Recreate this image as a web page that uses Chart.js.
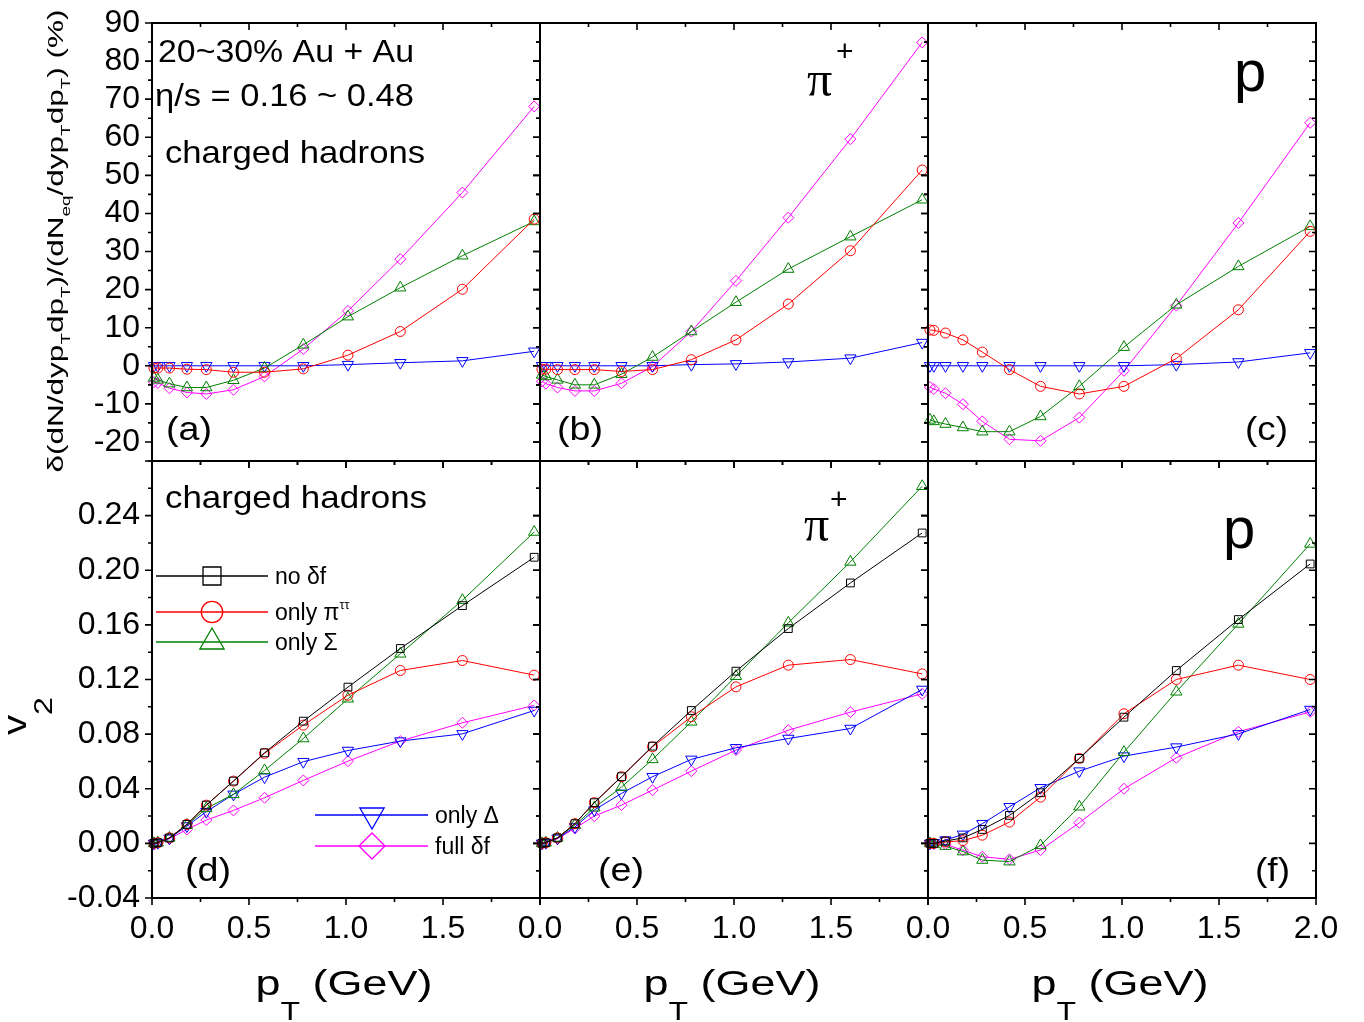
<!DOCTYPE html>
<html>
<head>
<meta charset="utf-8">
<title>delta f corrections: spectra and v2</title>
<script src="https://cdn.jsdelivr.net/npm/chart.js@4.4.1/dist/chart.umd.min.js"></script>
<style>
  html, body { margin: 0; padding: 0; background: #fff; overflow: hidden; }
  #wrap { position: relative; width: 1364px; height: 1022px; }
  #wrap canvas { position: absolute; left: 0; top: 0; }
</style>
</head>
<body>
<div id="wrap"></div>
<script>
const W = 1364, H = 1022;
const SANS = '"Liberation Sans", Arial, sans-serif';
const SERIF = '"Liberation Serif", "Times New Roman", serif';

// transverse momentum points (GeV)
const pT = [0.01, 0.03, 0.09, 0.18, 0.28, 0.42, 0.58, 0.78, 1.01, 1.28, 1.60, 1.97];

// relative change of the spectra, in %  (charged hadrons / pi+ / p)
const yieldPiCh    = [-0.6, -0.6, -0.6, -0.9, -1.0, -1.7, -1.7, -0.8, 2.8, 9.0, 20.1, 38.5];
const yieldSigmaCh = [-3.2, -3.7, -4.7, -5.7, -5.7, -3.8, -0.6, 5.5, 12.9, 20.5, 28.9, 37.9];
const yieldDeltaCh = [0, 0, 0, 0, 0, 0, 0, 0, 0.3, 0.8, 1.3, 3.8];
const yieldFullCh  = [-4.3, -4.5, -5.9, -7.0, -7.4, -6.3, -2.8, 4.4, 14.4, 28.0, 45.5, 68.1];

const yieldPiPion    = [-0.9, -0.9, -1.0, -1.0, -1.0, -1.5, -1.0, 1.6, 6.8, 16.2, 30.2, 51.4];
const yieldSigmaPion = [-2.4, -2.8, -3.7, -5.0, -5.0, -2.2, 2.3, 9.0, 16.7, 25.4, 33.9, 43.6];
const yieldDeltaPion = [0, 0, 0, 0, 0, 0, 0, 0.3, 0.5, 1.0, 2.0, 6.1];
const yieldFullPion  = [-4.1, -4.7, -5.7, -6.6, -6.6, -4.6, -0.2, 9.0, 22.3, 38.9, 59.5, 84.9];

const yieldPiProton    = [9.4, 9.3, 8.6, 6.8, 3.6, -1.0, -5.4, -7.4, -5.4, 1.9, 14.7, 35.3];
const yieldSigmaProton = [-14.2, -14.6, -15.3, -16.2, -17.3, -17.3, -13.3, -5.4, 4.9, 16.0, 26.1, 36.6];
const yieldDeltaProton = [0, 0, 0, 0, 0, 0, 0, 0, 0, 0.3, 1.0, 3.4];
const yieldFullProton  = [-5.6, -6.1, -7.2, -10.1, -14.6, -19.3, -19.7, -13.6, -1.3, 15.8, 37.5, 63.8];

// elliptic flow v2
const v2NoCh    = [0, 0.0005, 0.004, 0.0139, 0.028, 0.0456, 0.0663, 0.0895, 0.1144, 0.1427, 0.1741, 0.2095];
const v2PiCh    = [0, 0.0005, 0.004, 0.0139, 0.028, 0.0456, 0.0659, 0.0866, 0.1085, 0.1266, 0.1339, 0.1232];
const v2SigmaCh = [0, 0.0005, 0.004, 0.0134, 0.0256, 0.0359, 0.0534, 0.0768, 0.1059, 0.1388, 0.178, 0.228];
const v2DeltaCh = [0, 0.0005, 0.0037, 0.0127, 0.0232, 0.0359, 0.0485, 0.0598, 0.068, 0.0749, 0.0802, 0.0973];
const v2FullCh  = [0, 0.0005, 0.0034, 0.0102, 0.0171, 0.0241, 0.0334, 0.0461, 0.0602, 0.0749, 0.0883, 0.101];

const v2NoPion    = [0, 0.0005, 0.004, 0.0144, 0.0298, 0.0488, 0.0712, 0.0973, 0.1261, 0.1573, 0.1907, 0.2273];
const v2PiPion    = [0, 0.0005, 0.004, 0.0144, 0.0298, 0.0488, 0.0707, 0.0927, 0.1146, 0.1305, 0.1346, 0.1241];
const v2SigmaPion = [0, 0.0005, 0.004, 0.0134, 0.0261, 0.0412, 0.0615, 0.089, 0.1224, 0.1615, 0.2061, 0.2615];
const v2DeltaPion = [0, 0.0005, 0.0037, 0.012, 0.0244, 0.0366, 0.0488, 0.0615, 0.07, 0.0768, 0.0841, 0.1127];
const v2FullPion  = [0, 0.0005, 0.0034, 0.011, 0.02, 0.028, 0.039, 0.0529, 0.0683, 0.0829, 0.0961, 0.1095];

const v2NoProton    = [0, 0, 0.0017, 0.004, 0.0102, 0.0205, 0.0371, 0.0622, 0.0924, 0.1266, 0.1639, 0.2046];
const v2PiProton    = [0, 0, 0.001, 0.002, 0.006, 0.0156, 0.0339, 0.0622, 0.0949, 0.12, 0.1305, 0.12];
const v2SigmaProton = [0, -0.0007, -0.002, -0.006, -0.0122, -0.0134, -0.0015, 0.0268, 0.0668, 0.111, 0.1607, 0.2193];
const v2DeltaProton = [0, 0.0005, 0.0024, 0.0066, 0.0144, 0.0268, 0.0407, 0.0529, 0.0639, 0.0705, 0.0802, 0.098];
const v2FullProton  = [0, -0.0003, -0.0007, -0.005, -0.0098, -0.0117, -0.0049, 0.0151, 0.04, 0.0627, 0.0817, 0.0963];

// axis ranges
const xAxis = { min: 0, max: 2, step: 0.5, minor: 0.25 };
const yieldAxis = { min: -25, max: 90, step: 10, minor: 5 };
const v2Axis = { min: -0.04, max: 0.28, step: 0.04, minor: 0.02 };

// one look per delta-f variant
const STYLES = {
    no:    { color: '#000000', point: 'rect',     r: 5.5 },
    pi:    { color: '#ff0000', point: 'circle',   r: 5 },
    sigma: { color: '#008000', point: 'triangle', r: 6.5 },
    delta: { color: '#0000ff', point: 'triangle', r: 6.5, rot: 180 },
    full:  { color: '#ff00ff', point: 'rectRot',  r: 5.5 }
};

/** text with sub/superscript runs; parts = [text, sizeFactor, dyFactor] */
function richText(ctx, it) {
    const fam = it.font || SANS;
    ctx.save();
    ctx.translate(it.x, it.y);
    if (it.angle) ctx.rotate(it.angle * Math.PI / 180);
    const runs = it.parts.map(([t, f = 1, dy = 0]) => {
        const px = it.size * f;
        ctx.font = px + 'px ' + fam;
        return { t, px, dy: dy * it.size, w: ctx.measureText(t).width };
    });
    const natural = runs.reduce((s, r) => s + r.w, 0);
    if (it.width) ctx.scale(it.width / natural, 1);
    let cx = it.align === 'center' ? -natural / 2 : 0;
    ctx.fillStyle = it.color || '#000';
    ctx.textAlign = 'left';
    ctx.textBaseline = 'alphabetic';
    runs.forEach(r => {
        ctx.font = r.px + 'px ' + fam;
        ctx.fillText(r.t, cx, r.dy);
        cx += r.w;
    });
    ctx.restore();
}

/** line + big symbol + label, drawn by hand inside panel (d) */
function drawKey(ctx, rows) {
    rows.forEach(k => {
        const s = STYLES[k.key];
        ctx.save();
        ctx.strokeStyle = s.color;
        ctx.fillStyle = 'rgba(0,0,0,0)';
        ctx.lineWidth = 1.3;
        ctx.beginPath();
        ctx.moveTo(k.x1, k.y);
        ctx.lineTo(k.x2, k.y);
        ctx.stroke();
        Chart.helpers.drawPoint(ctx, {
            pointStyle: s.point, rotation: s.rot || 0, radius: k.r, borderWidth: 1.3
        }, k.mx, k.y);
        ctx.restore();
        richText(ctx, { x: k.tx, y: k.y + 8, size: 23, parts: k.parts });
    });
}

const isMajor = (v, step) => Math.abs(v / step - Math.round(v / step)) < 1e-6;

/** frame + tick marks (x ticks hang down, y ticks point left) */
function frameTicks(yc) {
    return {
        id: 'frameTicks',
        afterDatasetsDraw(chart) {
            const { ctx, chartArea: a, scales } = chart;
            ctx.save();
            ctx.strokeStyle = '#000';
            ctx.lineWidth = 1.6;
            ctx.beginPath();
            const nx = Math.round((xAxis.max - xAxis.min) / xAxis.minor);
            for (let i = 0; i <= nx; i++) {
                const v = xAxis.min + i * xAxis.minor;
                const px = scales.x.getPixelForValue(v);
                const len = isMajor(v, xAxis.step) ? 7 : 4;
                ctx.moveTo(px, a.bottom); ctx.lineTo(px, a.bottom + len);
                ctx.moveTo(px, a.top); ctx.lineTo(px, a.top + len);
            }
            const ny = Math.round((yc.max - yc.min) / yc.minor);
            for (let i = 0; i <= ny; i++) {
                const v = yc.min + i * yc.minor;
                const py = scales.y.getPixelForValue(v);
                const len = isMajor(v, yc.step) ? 7 : 4;
                ctx.moveTo(a.left, py); ctx.lineTo(a.left - len, py);
                ctx.moveTo(a.right, py); ctx.lineTo(a.right - len, py);
            }
            ctx.stroke();
            ctx.lineWidth = 2;
            ctx.strokeRect(a.left, a.top, a.width, a.height);
            ctx.restore();
        }
    };
}

function notesPlugin(items, key) {
    return {
        id: 'notes',
        afterDraw(chart) {
            items.forEach(it => richText(chart.ctx, it));
            if (key) drawKey(chart.ctx, key);
        }
    };
}

function makeSet(key, values) {
    const s = STYLES[key];
    return {
        label: key,
        data: values.map((v, i) => ({ x: pT[i], y: v })),
        borderColor: s.color,
        backgroundColor: 'rgba(0,0,0,0)',
        borderWidth: 1,
        pointStyle: s.point,
        pointRadius: s.r,
        pointRotation: s.rot || 0,
        pointBorderColor: s.color,
        pointBackgroundColor: 'rgba(0,0,0,0)',
        pointBorderWidth: 1,
        tension: 0,
        clip: false
    };
}

const yieldTitle = [['δ(dN/dyp'], ['T', 0.6, 0.3], ['dp'], ['T', 0.6, 0.3], [')/(dN'], ['eq', 0.6, 0.3],
    ['/dyp'], ['T', 0.6, 0.3], ['dp'], ['T', 0.6, 0.3], [') (%)']];
const ptTitle = [['p'], ['T', 0.71, 0.71], [' (GeV)']];

const panels = [
    {
        box: [152, 23, 540, 461], yc: yieldAxis, yLabels: true, xLabels: false,
        series: [['pi', yieldPiCh], ['sigma', yieldSigmaCh], ['delta', yieldDeltaCh], ['full', yieldFullCh]],
        notes: [
            { x: 158, y: 62, size: 31, width: 256, parts: [['20~30% Au + Au']] },
            { x: 155, y: 106, size: 31, width: 259, parts: [['η/s = 0.16 ~ 0.48']] },
            { x: 165, y: 163, size: 32, width: 260, parts: [['charged hadrons']] },
            { x: 166, y: 440, size: 34, width: 46, parts: [['(a)']] },
            { x: 63, y: 241, size: 22, angle: -90, align: 'center', width: 463, parts: yieldTitle }
        ]
    },
    {
        box: [540, 23, 928, 461], yc: yieldAxis, yLabels: false, xLabels: false,
        series: [['pi', yieldPiPion], ['sigma', yieldSigmaPion], ['delta', yieldDeltaPion], ['full', yieldFullPion]],
        notes: [
            { x: 807, y: 96, size: 50, font: SERIF, parts: [['π']] },
            { x: 836, y: 61, size: 30, parts: [['+']] },
            { x: 557, y: 440, size: 34, width: 46, parts: [['(b)']] }
        ]
    },
    {
        box: [928, 23, 1316, 461], yc: yieldAxis, yLabels: false, xLabels: false,
        series: [['pi', yieldPiProton], ['sigma', yieldSigmaProton], ['delta', yieldDeltaProton], ['full', yieldFullProton]],
        notes: [
            { x: 1234, y: 91, size: 58, parts: [['p']] },
            { x: 1245, y: 440, size: 34, width: 43, parts: [['(c)']] }
        ]
    },
    {
        box: [152, 461, 540, 898], yc: v2Axis, yLabels: true, xLabels: true,
        series: [['no', v2NoCh], ['pi', v2PiCh], ['sigma', v2SigmaCh], ['delta', v2DeltaCh], ['full', v2FullCh]],
        notes: [
            { x: 165, y: 508, size: 32, width: 262, parts: [['charged hadrons']] },
            { x: 185, y: 881, size: 34, width: 46, parts: [['(d)']] },
            { x: 26, y: 716, size: 33, angle: -90, align: 'center', width: 38, parts: [['v'], ['2', 0.8, 0.8]] },
            { x: 344, y: 995, size: 35, align: 'center', width: 177, parts: ptTitle }
        ],
        key: [
            { key: 'no',    x1: 156, x2: 268, mx: 212, y: 576, r: 12.7, tx: 275, parts: [['no δf']] },
            { key: 'pi',    x1: 156, x2: 268, mx: 212, y: 612, r: 10.7, tx: 275, parts: [['only π'], ['ττ', 0.55, -0.5]] },
            { key: 'sigma', x1: 156, x2: 268, mx: 212, y: 642, r: 14,   tx: 275, parts: [['only Σ']] },
            { key: 'delta', x1: 315, x2: 428, mx: 372, y: 815, r: 14,   tx: 435, parts: [['only Δ']] },
            { key: 'full',  x1: 315, x2: 428, mx: 372, y: 846, r: 13,   tx: 435, parts: [['full δf']] }
        ]
    },
    {
        box: [540, 461, 928, 898], yc: v2Axis, yLabels: false, xLabels: true,
        series: [['no', v2NoPion], ['pi', v2PiPion], ['sigma', v2SigmaPion], ['delta', v2DeltaPion], ['full', v2FullPion]],
        notes: [
            { x: 804, y: 541, size: 50, font: SERIF, parts: [['π']] },
            { x: 830, y: 509, size: 30, parts: [['+']] },
            { x: 598, y: 881, size: 34, width: 46, parts: [['(e)']] },
            { x: 732, y: 995, size: 35, align: 'center', width: 177, parts: ptTitle }
        ]
    },
    {
        box: [928, 461, 1316, 898], yc: v2Axis, yLabels: false, xLabels: true, lastX: true,
        series: [['no', v2NoProton], ['pi', v2PiProton], ['sigma', v2SigmaProton], ['delta', v2DeltaProton], ['full', v2FullProton]],
        notes: [
            { x: 1223, y: 548, size: 58, parts: [['p']] },
            { x: 1255, y: 881, size: 34, width: 35, parts: [['(f)']] },
            { x: 1120, y: 995, size: 35, align: 'center', width: 177, parts: ptTitle }
        ]
    }
];

const wrap = document.getElementById('wrap');

panels.forEach(p => {
    const canvas = document.createElement('canvas');
    canvas.width = W;
    canvas.height = H;
    wrap.appendChild(canvas);
    const [l, t, r, b] = p.box;
    const yc = p.yc;
    const v2Row = yc === v2Axis;
    // an axis with labels owns the whole margin beside the plot box, so its labels are not clipped
    const yBand = p.yLabels ? l : 0;
    const xBand = p.xLabels ? H - b : 0;
    new Chart(canvas, {
        type: 'line',
        data: { datasets: p.series.map(([k, vals]) => makeSet(k, vals)) },
        options: {
            responsive: false,
            animation: false,
            devicePixelRatio: 1,
            events: [],
            layout: { padding: { left: l - yBand, top: t, right: W - r, bottom: H - b - xBand } },
            plugins: { legend: { display: false }, tooltip: { enabled: false } },
            scales: {
                x: {
                    type: 'linear', min: xAxis.min, max: xAxis.max,
                    grid: { display: false, drawTicks: false },
                    border: { display: false },
                    ticks: {
                        display: p.xLabels, stepSize: xAxis.step, autoSkip: false, maxRotation: 0,
                        padding: 12, color: '#000', font: { family: SANS, size: 32 },
                        callback: v => (p.lastX || v < 1.999) ? v.toFixed(1) : ''
                    },
                    afterFit: scale => {
                        scale.height = xBand;
                        scale.paddingLeft = scale.paddingRight = 0;
                    }
                },
                y: {
                    type: 'linear', min: yc.min, max: yc.max,
                    grid: { display: false, drawTicks: false },
                    border: { display: false },
                    ticks: {
                        display: p.yLabels, stepSize: yc.step, includeBounds: false, autoSkip: false,
                        padding: 12, color: '#000', font: { family: SANS, size: 32 },
                        callback: v => v2Row ? (v > 0.27 ? '' : v.toFixed(2)) : String(Math.round(v))
                    },
                    afterFit: scale => {
                        scale.width = yBand;
                        scale.paddingTop = scale.paddingBottom = 0;
                    }
                }
            }
        },
        plugins: [frameTicks(yc), notesPlugin(p.notes, p.key)]
    });
});
</script>
</body>
</html>
